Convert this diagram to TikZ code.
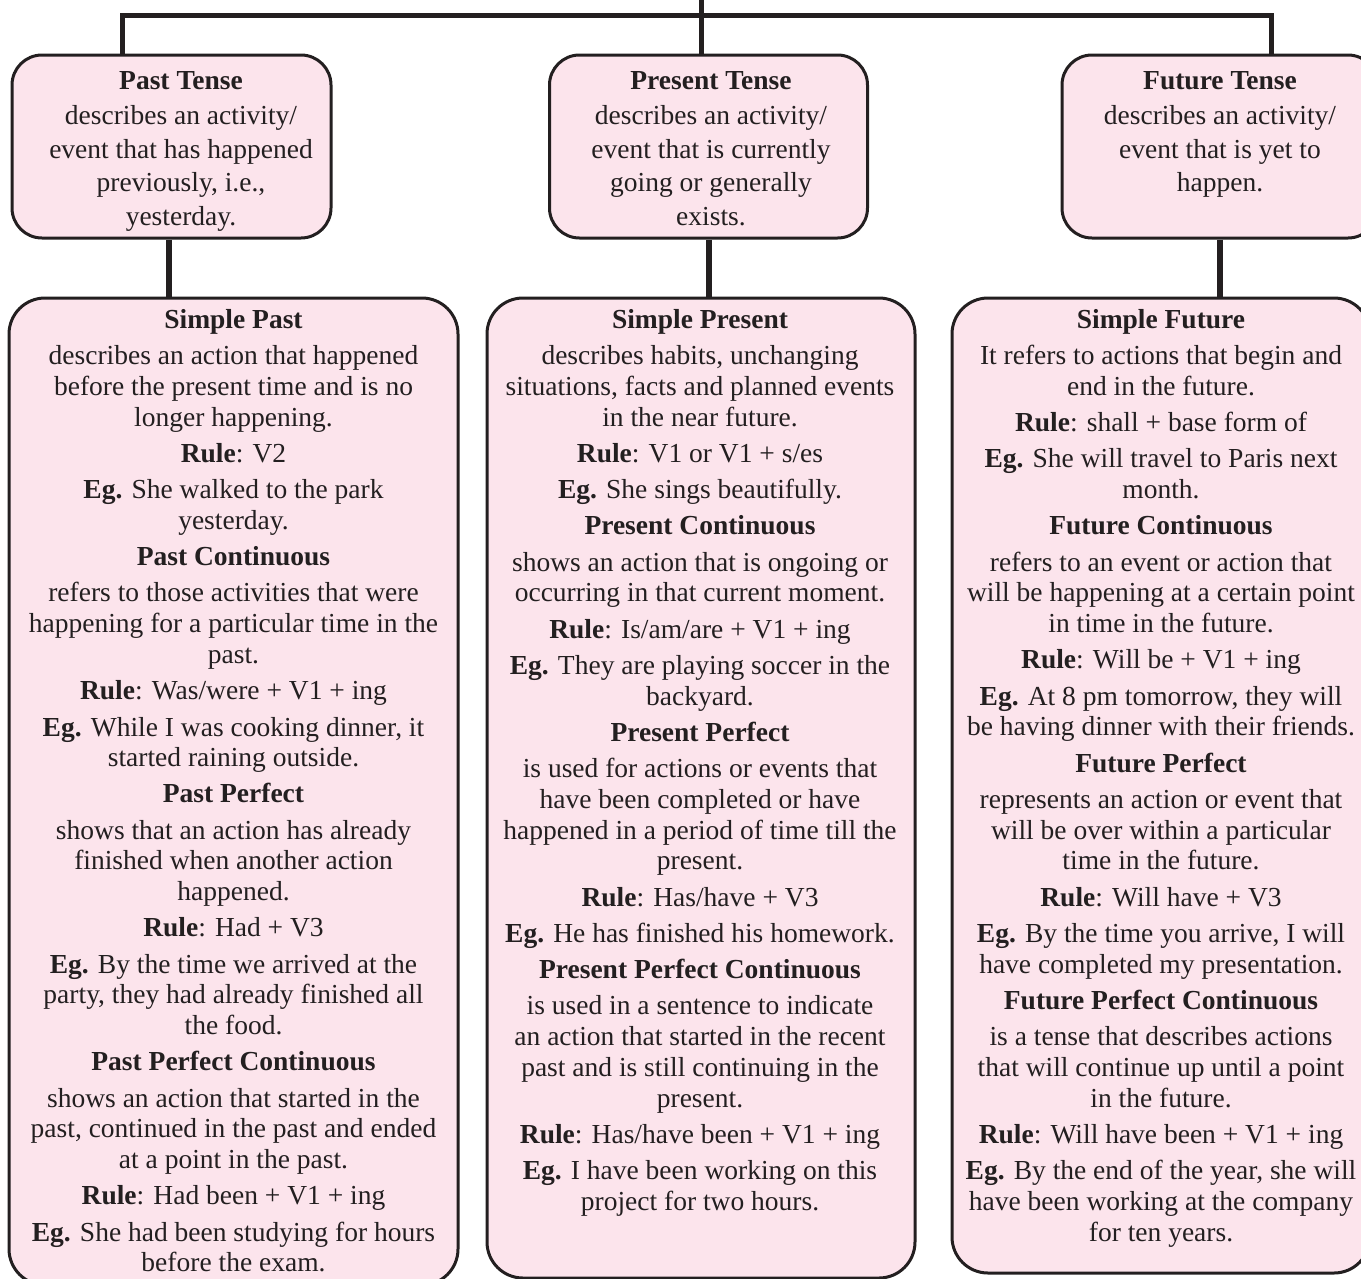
\documentclass[tikz,border=0pt]{standalone}
\usepackage{fontspec}
\setmainfont{Liberation Serif}
\usepackage{tikz}
\definecolor{boxpink}{RGB}{252,228,236}
\definecolor{boxline}{RGB}{35,31,32}
\tikzstyle{tensebox} = [draw=boxline, fill=boxpink, line width=3pt,
    rectangle, rounded corners=30pt, inner sep=0pt]
\tikzstyle{formbox} = [tensebox, rounded corners=36pt]
\tikzstyle{tensetext} = [align=center, inner sep=0pt, anchor=north, text=boxline,
    font=\fontsize{27.5}{33.5}\selectfont]
\tikzstyle{formtext} = [tensetext, font=\fontsize{27.5}{30.9}\selectfont]
\tikzstyle{link} = [draw=boxline, line width=5pt]
\tikzstyle{stem} = [draw=boxline, line width=6pt]

\begin{document}
\begin{tikzpicture}[x=1pt, y=-1pt]
                \useasboundingbox (0,0) rectangle (1361,1278);
                % the three tenses
                \node [tensebox, minimum width=319pt, minimum height=183pt] (past) at (171.5,146.5) {};
                \node [tensebox, minimum width=318pt, minimum height=183pt] (present) at (708.5,146.5) {};
                \node [tensebox, minimum width=316pt, minimum height=183pt] (future) at (1220,146.5) {};
                \node [tensetext] (pasttext) at (181,71.5) {\textbf{Past Tense}\\[1.5pt]
                    describes an activity/\\ event that has happened\\ previously, i.e.,\\ yesterday.};
                \node [tensetext] (presenttext) at (711,71.5) {\textbf{Present Tense}\\[1.5pt]
                    describes an activity/\\ event that is currently\\ going or generally\\ exists.};
                \node [tensetext] (futuretext) at (1220,71.5) {\textbf{Future Tense}\\[1.5pt]
                    describes an activity/\\ event that is yet to\\ happen.};
                % their forms
                \node [formbox, minimum width=449pt, minimum height=987pt] (pastd) at (233.5,791.5) {};
                \node [formbox, minimum width=428pt, minimum height=980pt] (presentd) at (701,788) {};
                \node [formbox, minimum width=418pt, minimum height=975pt] (futured) at (1161,785.5) {};
                \node [formtext] (pastdtext) at (233.5,309.5) {%
                    \textbf{Simple Past}\\[5.2pt]
                    describes an action that happened\\
                    before the present time and is no\\
                    longer happening.\\[5.2pt]
                    \textbf{Rule}: V2\\[5.2pt]
                    \textbf{Eg.} She walked to the park\\
                    yesterday.\\[5.2pt]
                    \textbf{Past Continuous}\\[5.2pt]
                    refers to those activities that were\\
                    happening for a particular time in the\\
                    past.\\[5.2pt]
                    \textbf{Rule}: Was/were + V1 + ing\\[5.2pt]
                    \textbf{Eg.} While I was cooking dinner, it\\
                    started raining outside.\\[5.2pt]
                    \textbf{Past Perfect}\\[5.2pt]
                    shows that an action has already\\
                    finished when another action\\
                    happened.\\[5.2pt]
                    \textbf{Rule}: Had + V3\\[5.2pt]
                    \textbf{Eg.} By the time we arrived at the\\
                    party, they had already finished all\\
                    the food.\\[5.2pt]
                    \textbf{Past Perfect Continuous}\\[5.2pt]
                    shows an action that started in the\\
                    past, continued in the past and ended\\
                    at a point in the past.\\[5.2pt]
                    \textbf{Rule}: Had been + V1 + ing\\[5.2pt]
                    \textbf{Eg.} She had been studying for hours\\
                    before the exam.};
                \node [formtext] (presentdtext) at (700,309.5) {%
                    \textbf{Simple Present}\\[5.2pt]
                    describes habits, unchanging\\
                    situations, facts and planned events\\
                    in the near future.\\[5.2pt]
                    \textbf{Rule}: V1 or V1 + s/es\\[5.2pt]
                    \textbf{Eg.} She sings beautifully.\\[5.2pt]
                    \textbf{Present Continuous}\\[5.2pt]
                    shows an action that is ongoing or\\
                    occurring in that current moment.\\[5.2pt]
                    \textbf{Rule}: Is/am/are + V1 + ing\\[5.2pt]
                    \textbf{Eg.} They are playing soccer in the\\
                    backyard.\\[5.2pt]
                    \textbf{Present Perfect}\\[5.2pt]
                    is used for actions or events that\\
                    have been completed or have\\
                    happened in a period of time till the\\
                    present.\\[5.2pt]
                    \textbf{Rule}: Has/have + V3\\[5.2pt]
                    \textbf{Eg.} He has finished his homework.\\[5.2pt]
                    \textbf{Present Perfect Continuous}\\[5.2pt]
                    is used in a sentence to indicate\\
                    an action that started in the recent\\
                    past and is still continuing in the\\
                    present.\\[5.2pt]
                    \textbf{Rule}: Has/have been + V1 + ing\\[5.2pt]
                    \textbf{Eg.} I have been working on this\\
                    project for two hours.};
                \node [formtext] (futuredtext) at (1161,309.5) {%
                    \textbf{Simple Future}\\[5.2pt]
                    It refers to actions that begin and\\
                    end in the future.\\[5.2pt]
                    \textbf{Rule}: shall + base form of\\[5.2pt]
                    \textbf{Eg.} She will travel to Paris next\\
                    month.\\[5.2pt]
                    \textbf{Future Continuous}\\[5.2pt]
                    refers to an event or action that\\
                    will be happening at a certain point\\
                    in time in the future.\\[5.2pt]
                    \textbf{Rule}: Will be + V1 + ing\\[5.2pt]
                    \textbf{Eg.} At 8 pm tomorrow, they will\\
                    be having dinner with their friends.\\[5.2pt]
                    \textbf{Future Perfect}\\[5.2pt]
                    represents an action or event that\\
                    will be over within a particular\\
                    time in the future.\\[5.2pt]
                    \textbf{Rule}: Will have + V3\\[5.2pt]
                    \textbf{Eg.} By the time you arrive, I will\\
                    have completed my presentation.\\[5.2pt]
                    \textbf{Future Perfect Continuous}\\[5.2pt]
                    is a tense that describes actions\\
                    that will continue up until a point\\
                    in the future.\\[5.2pt]
                    \textbf{Rule}: Will have been + V1 + ing\\[5.2pt]
                    \textbf{Eg.} By the end of the year, she will\\
                    have been working at the company\\
                    for ten years.};
                % connectors
                \coordinate (root) at (701,-5);
                \coordinate (bar) at (701,15);
                \draw [link] (root) -- (root |- present.north);
                \draw [link] ([xshift=-49.5pt]past.north) |- (bar) -| ([xshift=51pt]future.north);
                \draw [stem] ([xshift=-2.5pt]past.south) -- ([xshift=-2.5pt]past.south |- pastd.north);
                \draw [stem] (present.south) -- (present.south |- presentd.north);
                \draw [stem] (future.south) -- (future.south |- futured.north);
            \end{tikzpicture}
\end{document}
